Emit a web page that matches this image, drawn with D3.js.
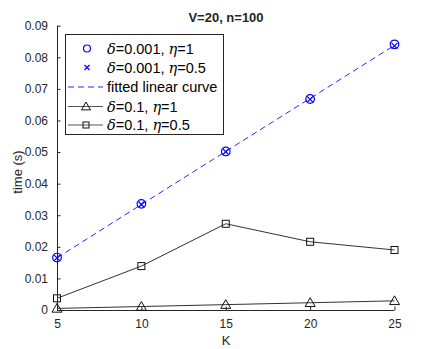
<!DOCTYPE html>
<html><head><meta charset="utf-8">
<script src="https://cdn.jsdelivr.net/npm/d3@7"></script>
<style>body{margin:0;background:#fff}svg{display:block}text{font-family:"Liberation Sans",Arial,sans-serif;fill:#262626}</style>
</head><body><svg id="c" width="436" height="349"></svg>
<script>
const K = [5, 10, 15, 20, 25];
const circ = [0.0166, 0.0336, 0.0502, 0.0668, 0.0841];
const cross = [0.0165, 0.0334, 0.0501, 0.0667, 0.0836];
const fitted = [0.0165, 0.0334, 0.0502, 0.0670, 0.0838];
const tri = [0.0005, 0.0011, 0.0017, 0.0023, 0.0029];
const sq = [0.0037, 0.0139, 0.0273, 0.0216, 0.0190];
const xTicks = [5, 10, 15, 20, 25];
const yTicks = [0, 0.01, 0.02, 0.03, 0.04, 0.05, 0.06, 0.07, 0.08, 0.09];
const yTickLabels = ["0","0.01","0.02","0.03","0.04","0.05","0.06","0.07","0.08","0.09"];

const svg = d3.select("#c");
const x = d3.scaleLinear().domain([5, 25]).range([57, 394.5]);
const y = d3.scaleLinear().domain([0, 0.09]).range([310, 25.7]);
const axisCol = "#262626";

// axes
const gx = svg.append("g").attr("transform", "translate(0,310)")
  .call(d3.axisBottom(x).tickValues(xTicks).tickSize(-3.5).tickPadding(9).tickFormat(d3.format("d")));
const gy = svg.append("g").attr("transform", "translate(57,0)")
  .call(d3.axisLeft(y).tickValues(yTicks).tickSize(-3.5).tickPadding(9).tickFormat((d,i)=>yTickLabels[i]));
[gx, gy].forEach(g => {
  g.select(".domain").attr("stroke", axisCol).attr("stroke-width", 1);
  g.selectAll(".tick line").attr("stroke", axisCol);
  g.selectAll(".tick text").attr("font-size", 12).attr("fill", axisCol).attr("font-family", '"Liberation Sans",Arial,sans-serif');
});
gy.select(".domain").attr("d", `M0.5,${y(0.09)}V310`);
gx.select(".domain").attr("d", `M57,0.5H${x(25)}`);

// labels
svg.append("text").attr("x", 226).attr("y", 22).attr("text-anchor", "middle")
  .attr("font-size", 13).attr("font-weight", "bold").attr("fill", "#000").text("V=20, n=100");
svg.append("text").attr("x", 226).attr("y", 345).attr("text-anchor", "middle")
  .attr("font-size", 13).text("K");
svg.append("text").attr("transform", "translate(22,172) rotate(-90)").attr("text-anchor", "middle")
  .attr("font-size", 13).text("time (s)");

const blue = "#0000ff";
const line = d3.line().x((d,i)=>x(K[i])).y(d=>y(d));

// fitted linear curve
svg.append("path").datum(fitted).attr("d", line).attr("fill", "none")
  .attr("stroke", blue).attr("stroke-width", 1).attr("stroke-dasharray", "6,4").attr("opacity", 0.85);

function drawTri(g, cx, cy, s) {
  s = s || 5;
  g.append("path").attr("d", `M${cx},${cy-s}L${cx+s},${cy+s*0.75}L${cx-s},${cy+s*0.75}Z`)
    .attr("fill", "none").attr("stroke", "#111").attr("stroke-width", 1);
}
function drawSq(g, cx, cy, s) {
  s = s || 3.5;
  g.append("rect").attr("x", cx-s).attr("y", cy-s).attr("width", 2*s).attr("height", 2*s)
    .attr("fill", "none").attr("stroke", "#111").attr("stroke-width", 1);
}
function drawCirc(g, cx, cy, r) {
  g.append("circle").attr("cx", cx).attr("cy", cy).attr("r", r || 4.3)
    .attr("fill", "none").attr("stroke", blue).attr("stroke-width", 1.2);
}
function drawCross(g, cx, cy, s) {
  s = s || 3;
  g.append("path").attr("d", `M${cx-s},${cy-s}L${cx+s},${cy+s}M${cx-s},${cy+s}L${cx+s},${cy-s}`)
    .attr("stroke", blue).attr("stroke-width", 1.2);
}

svg.append("path").datum(tri).attr("d", line).attr("fill", "none").attr("stroke", "#333").attr("stroke-width", 1);
svg.append("path").datum(sq).attr("d", line).attr("fill", "none").attr("stroke", "#333").attr("stroke-width", 1);
const mg = svg.append("g");
tri.forEach((v,i)=>drawTri(mg, x(K[i]), y(v)));
sq.forEach((v,i)=>drawSq(mg, x(K[i]), y(v)));
circ.forEach((v,i)=>drawCirc(mg, x(K[i]), y(v)));
cross.forEach((v,i)=>drawCross(mg, x(K[i]), y(v)));

// legend
const lg = svg.append("g");
lg.append("rect").attr("x", 65.5).attr("y", 34.5).attr("width", 158).attr("height", 100)
  .attr("fill", "#fff").attr("stroke", axisCol).attr("stroke-width", 1);
const rowsY = [48.5, 67.5, 87, 106.5, 125];
function legText(yy, parts) {
  const t = lg.append("text").attr("x", 107).attr("y", yy + 5).attr("font-size", 14.5).attr("fill", "#000");
  parts.forEach(p => {
    const ts = t.append("tspan").text(p[0]).attr("fill", "#000");
    if (p[1]) ts.attr("font-style", "italic").attr("font-family", '"DejaVu Serif","Liberation Serif",serif');
  });
}
drawCirc(lg, 87, rowsY[0], 3.5);
legText(rowsY[0], [["δ",1],["=0.001, "],["η",1],["=1"]]);
drawCross(lg, 87, rowsY[1], 2.5);
legText(rowsY[1], [["δ",1],["=0.001, "],["η",1],["=0.5"]]);
lg.append("line").attr("x1", 68).attr("x2", 103).attr("y1", rowsY[2]).attr("y2", rowsY[2])
  .attr("stroke", blue).attr("stroke-dasharray", "6,4").attr("opacity", 0.85);
legText(rowsY[2], [["fitted linear curve"]]);
lg.append("line").attr("x1", 68).attr("x2", 103).attr("y1", rowsY[3]).attr("y2", rowsY[3]).attr("stroke", "#555");
drawTri(lg, 86, rowsY[3], 4.5);
legText(rowsY[3], [["δ",1],["=0.1, "],["η",1],["=1"]]);
lg.append("line").attr("x1", 68).attr("x2", 103).attr("y1", rowsY[4]).attr("y2", rowsY[4]).attr("stroke", "#555");
drawSq(lg, 86, rowsY[4], 3);
legText(rowsY[4], [["δ",1],["=0.1, "],["η",1],["=0.5"]]);
</script></body></html>
